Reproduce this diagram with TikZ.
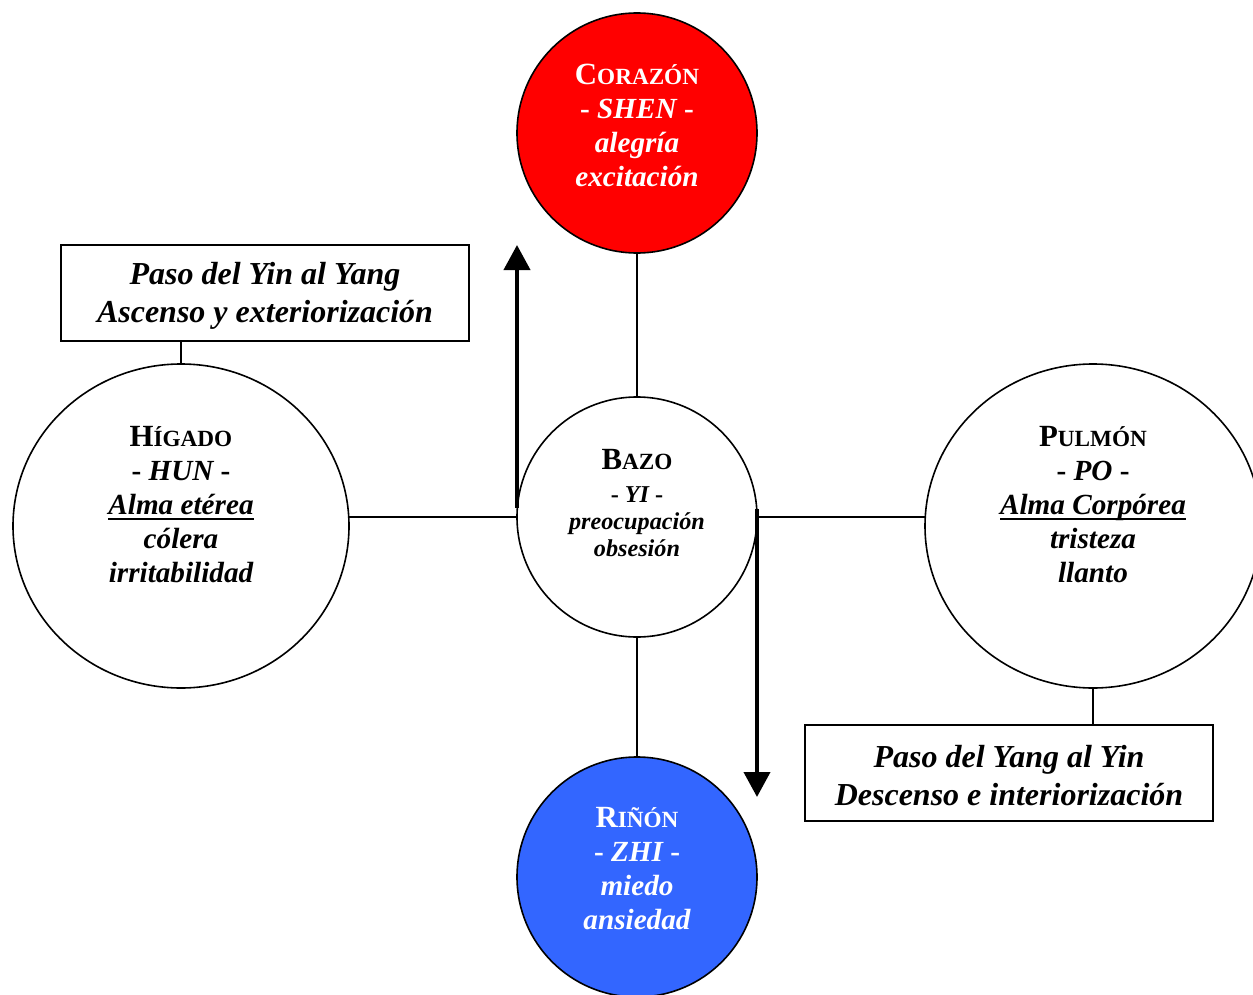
\documentclass[tikz,border=0pt]{standalone}
\usepackage{fontspec}
\setmainfont{Liberation Serif}
\usetikzlibrary{shapes.geometric,arrows.meta}
\definecolor{kidney}{HTML}{3366FF}
\newcommand{\nm}[2]{{\upshape\bfseries\fontsize{15.4}{17}\selectfont #1\fontsize{11.6}{17}\selectfont #2}}
\newcommand{\hy}{{\upshape -}}
\newcommand{\ulx}[1]{\setbox0\hbox{#1}\rlap{\raisebox{-2.6pt}{\rule{\wd0}{1pt}}}\box0}
\begin{document}
\begin{tikzpicture}[x=0.5pt,y=-0.5pt,
  organ/.style={circle, draw, line width=0.8pt, minimum size=120pt, inner sep=0pt, outer sep=0pt},
  bigorgan/.style={ellipse, draw, line width=0.8pt, minimum width=168pt, minimum height=162pt, inner sep=0pt, outer sep=0pt},
  txt/.style={align=center, inner sep=0pt, font=\bfseries\itshape\fontsize{14.6}{17}\selectfont},
  smalltxt/.style={align=center, inner sep=0pt, font=\bfseries\itshape\fontsize{12.1}{13.5}\selectfont},
  boxnode/.style={draw, line width=0.8pt, minimum width=204pt, minimum height=48pt, inner sep=0pt, outer sep=0pt, align=center, font=\bfseries\itshape\fontsize{16}{19}\selectfont},
  link/.style={line width=0.7pt},
  flow/.style={line width=2pt, -{Triangle[width=13pt,length=12.5pt]}}
]
\useasboundingbox (0,0) rectangle (1253,995);
% organs
\node[organ, fill=red] (cor) at (637,133) {};
\node[organ, fill=white] (bazo) at (637,517) {};
\node[organ, fill=kidney] (rin) at (637,877) {};
\node[bigorgan] (hig) at (181,526) {};
\node[bigorgan] (pul) at (1093,526) {};
% boxes
\node[boxnode] (b1) at (265,293) {};
\node[boxnode] (b2) at (1009,773) {};
\node[boxnode, draw=none, font=\bfseries\itshape\fontsize{16}{19}\selectfont] (b1T) at ([yshift=-1.5pt]b1.center) {Paso del Yin al Yang\\Ascenso y exteriorización};
\node[boxnode, draw=none] (b2T) at ([yshift=-1.5pt]b2.center) {Paso del Yang al Yin\\Descenso e interiorización};
% connectors
\draw[link] (cor) -- (bazo);
\draw[link] (bazo) -- (rin);
\draw[link] (hig.east |- bazo.west) -- (bazo.west);
\draw[link] (bazo.east) -- (bazo.east -| pul.west);
\draw[link] (hig.north) -- (hig.north |- b1.south);
\draw[link] (pul.south) -- (pul.south |- b2.north);
\coordinate (dtip) at ([yshift=-140pt]bazo.east);
\draw[flow] ([yshift=4.5pt]bazo.west) -- (bazo.west |- b1.north);
\draw[flow] ([yshift=4pt]bazo.east) -- (dtip);
% texts
\node[txt, text=white] (corT) at ([yshift=4pt]cor.center) {\nm{C}{ORAZÓN}\\\hy{} SHEN \hy\\alegría\\excitación};
\node[smalltxt] (bazoT) at ([yshift=7pt]bazo.center) {\nm{B}{AZO}\\[3pt]\hy{} YI \hy\\preocupación\\obsesión};
\node[txt] (higT) at ([yshift=10.5pt]hig.center) {\nm{H}{ÍGADO}\\\hy{} HUN \hy\\\ulx{Alma etérea}\\cólera\\irritabilidad};
\node[txt] (pulT) at ([yshift=10.5pt]pul.center) {\nm{P}{ULMÓN}\\\hy{} PO \hy\\\ulx{Alma Corpórea}\\tristeza\\llanto};
\node[txt, text=white] (rinT) at ([yshift=4pt]rin.center) {\nm{R}{IÑÓN}\\\hy{} ZHI \hy\\miedo\\ansiedad};
\end{tikzpicture}
\end{document}
